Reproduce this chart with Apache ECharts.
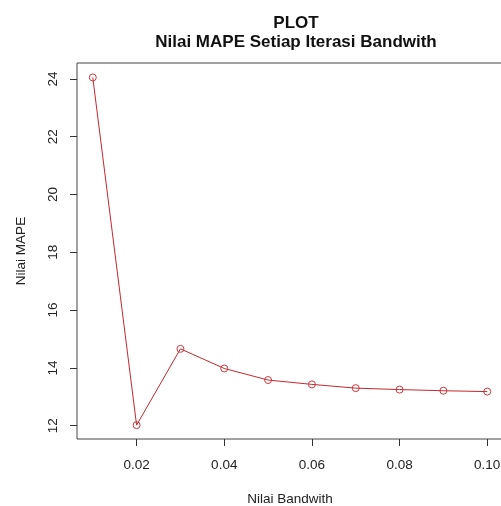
<!DOCTYPE html>
<html>
<head>
<meta charset="utf-8">
<script src="https://cdn.jsdelivr.net/npm/echarts@6/dist/echarts.min.js"></script>
<style>
  html, body { margin: 0; padding: 0; background: #fff; }
  #container { width: 501px; height: 506px; }
</style>
</head>
<body>
<div id="container"></div>
<script>
// nilai bandwith dan MAPE
var bandwith = [0.01, 0.02, 0.03, 0.04, 0.05, 0.06, 0.07, 0.08, 0.09, 0.10];
var mape = [24.05, 12.02, 14.66, 13.98, 13.58, 13.43, 13.30, 13.25, 13.21, 13.18];
var xTicks = [0.02, 0.04, 0.06, 0.08, 0.10];
var yTicks = [12, 14, 16, 18, 20, 22, 24];

var dom = document.getElementById("container");
var myChart = echarts.init(dom);
var font = '"Liberation Sans", Arial, sans-serif';

var option = {
  backgroundColor: '#fff',
  animation: false,
  textStyle: { fontFamily: font },
  title: {
    text: 'PLOT',
    subtext: 'Nilai MAPE Setiap Iterasi Bandwith',
    left: 291,
    textAlign: 'center',
    top: 10,
    itemGap: 2,
    textStyle: { fontFamily: font, fontSize: 17, fontWeight: 'bold', color: '#111' },
    subtextStyle: { fontFamily: font, fontSize: 17, fontWeight: 'bold', color: '#111' }
  },
  grid: {
    left: 77,
    top: 63,
    right: -2,
    bottom: 67,
    show: true,
    borderColor: '#444',
    borderWidth: 1,
    backgroundColor: 'transparent',
    outerBoundsMode: 'none'
  },
  xAxis: {
    type: 'value',
    min: 0.0064,
    max: 0.1036,
    name: 'Nilai Bandwith',
    nameLocation: 'middle',
    nameGap: 53,
    nameTextStyle: { fontFamily: font, fontSize: 13.5, color: '#222' },
    splitLine: { show: false },
    axisLine: { show: false },
    axisTick: { show: true, length: 7, lineStyle: { color: '#333' }, customValues: xTicks },
    axisLabel: {
      margin: 19,
      fontSize: 13.5,
      color: '#222',
      customValues: xTicks,
      formatter: function (v) { return v.toFixed(2); }
    }
  },
  yAxis: {
    type: 'value',
    min: 11.54,
    max: 24.55,
    name: 'Nilai MAPE',
    nameLocation: 'middle',
    nameGap: 49,
    nameTextStyle: { fontFamily: font, fontSize: 13.5, color: '#222' },
    splitLine: { show: false },
    axisLine: { show: false },
    axisTick: { show: true, length: 7, lineStyle: { color: '#333' }, customValues: yTicks },
    axisLabel: {
      margin: 17,
      fontSize: 13.5,
      color: '#222',
      rotate: 90,
      customValues: yTicks
    }
  },
  series: [{
    name: 'MAPE',
    type: 'line',
    data: bandwith.map(function (b, i) { return [b, mape[i]]; }),
    symbol: 'circle',
    symbolSize: 7,
    lineStyle: { color: '#c4282e', width: 1 },
    itemStyle: { color: 'rgba(255,255,255,0)', borderColor: '#c83a40', borderWidth: 1 }
  }]
};

if (option && typeof option === "object") {
  myChart.setOption(option, true);
}
</script>
</body>
</html>
